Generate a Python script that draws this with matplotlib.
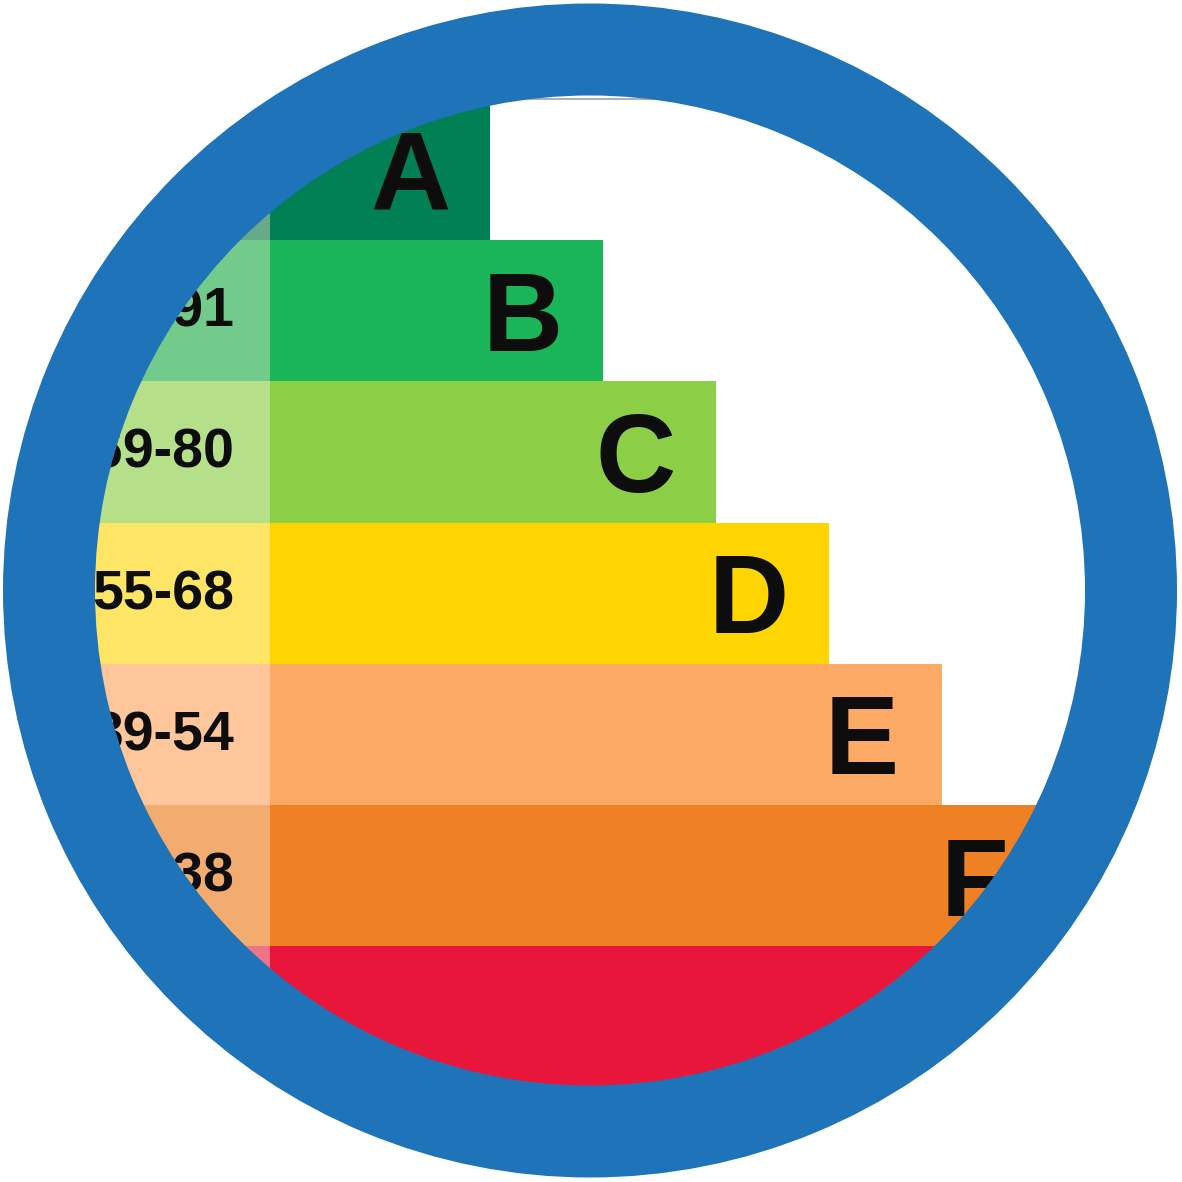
import matplotlib
matplotlib.use('Agg')
import matplotlib.pyplot as plt
from matplotlib.patches import Wedge

# energy rating bands, top to bottom
bands = ['A', 'B', 'C', 'D', 'E', 'F', 'G']
score_ranges = ['92+', '81-91', '69-80', '55-68', '39-54', '21-38', '1-20']
bar_ends = [490, 603, 716, 829, 942, 1055, 1168]
bar_colors = ['#008054', '#1ab459', '#8dce47', '#fed500', '#fcaa65', '#ef8024', '#e9163b']
tint_colors = ['#68a98a', '#72cb8b', '#b6df8a', '#ffe566', '#fec69a', '#f3ac6f', '#f07489']

size = 1182
cx, cy = 590, 590.5
r_inner, r_outer = 495, 587
ring_blue = '#1f74b9'

top = 99
row_h = 141.2
label_edge = 270

fig = plt.figure(figsize=(11.82, 11.82), dpi=100)
ax = fig.add_axes([0, 0, 1, 1])
ax.set_xlim(0, size)
ax.set_ylim(size, 0)
ax.axis('off')

centers = [top + (i + 0.5) * row_h for i in range(len(bands))]

# score column (light tint) and rating bars
ax.barh(centers, [label_edge] * len(bands), left=0, height=row_h,
        color=tint_colors, linewidth=0, zorder=1)
ax.barh(centers, [e - label_edge for e in bar_ends], left=label_edge,
        height=row_h, color=bar_colors, linewidth=0, zorder=1)

ax.hlines(top - 0.5, label_edge, size, color='#b0b0b0', lw=1.5, zorder=2)

for c, band, rng, end in zip(centers, bands, score_ranges, bar_ends):
    ax.text(end - 80, c + 40, band, ha='center', va='baseline',
            fontsize=80, fontweight='bold', family='Liberation Sans',
            color='#0c0d0c', zorder=3)
    ax.text(234, c + 16, rng, ha='right', va='baseline',
            fontsize=40, fontweight='bold', family='Liberation Sans',
            color='#0c0d0c', zorder=3)

# white mask outside the ring, then the ring itself
ax.add_patch(Wedge((cx, cy), 1000, 0, 360, width=1000 - (r_outer - 1),
                   facecolor='white', edgecolor='none', zorder=5))
ax.add_patch(Wedge((cx, cy), r_outer, 0, 360, width=r_outer - r_inner,
                   facecolor=ring_blue, edgecolor='none', zorder=6))

fig.savefig('out.png', dpi=100, facecolor='white')
